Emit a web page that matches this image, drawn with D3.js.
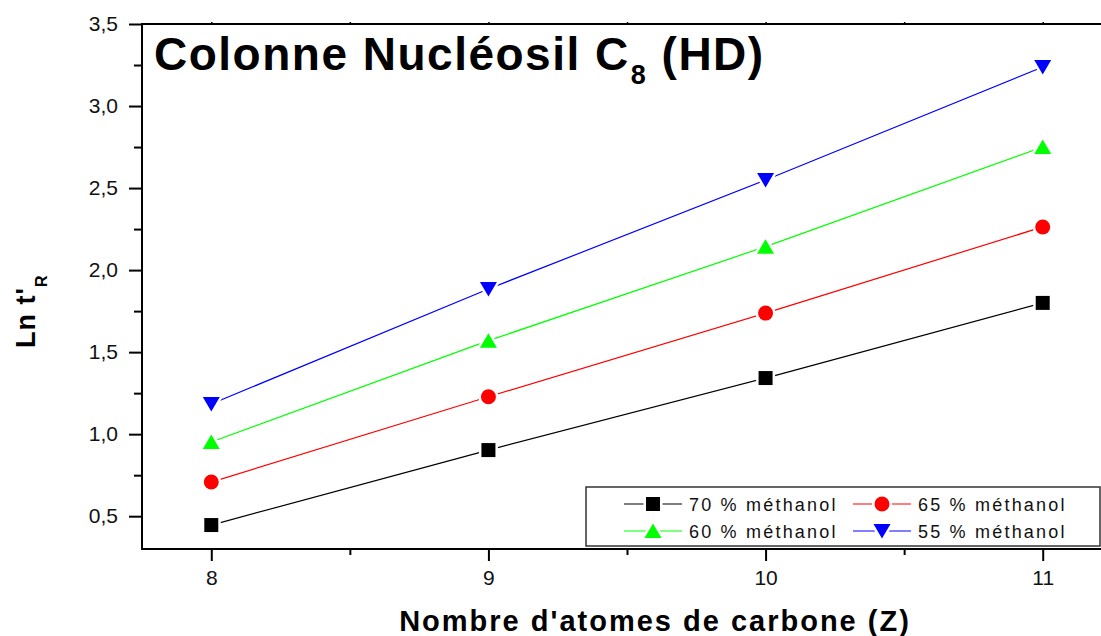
<!DOCTYPE html>
<html>
<head>
<meta charset="utf-8">
<script src="https://cdn.jsdelivr.net/npm/d3@7"></script>
<style>
  body { margin: 0; background: #fff; }
  svg { display: block; font-family: Arial, 'Liberation Sans', sans-serif; }
</style>
</head>
<body>
<div id="chart"></div>
<script>
// Ln t'R vs carbon number, four methanol ratios

const carbons = [8, 9, 10, 11]
const meth70 = [0.446, 0.903, 1.342, 1.80]
const meth65 = [0.708, 1.228, 1.738, 2.263]
const meth60 = [0.952, 1.57, 2.143, 2.75]
const meth55 = [1.184, 1.885, 2.549, 3.238]
const seriesNames = ['70 % méthanol', '65 % méthanol', '60 % méthanol', '55 % méthanol']
const yTicks = [0.5, 1.0, 1.5, 2.0, 2.5, 3.0, 3.5]
const xTicks = [8, 9, 10, 11]

const width = 1101
const height = 636

const series = [
  { name: seriesNames[0], values: meth70, color: '#000000', shape: 'square' },
  { name: seriesNames[1], values: meth65, color: '#ff0000', shape: 'circle' },
  { name: seriesNames[2], values: meth60, color: '#00ff00', shape: 'up' },
  { name: seriesNames[3], values: meth55, color: '#0000ff', shape: 'down' }
]

const svg = d3.select('#chart').append('svg')
  .attr('width', width).attr('height', height)

const x = d3.scaleLinear().domain([7.75, 11.25]).range([142, 1112])
const y = d3.scaleLinear().domain([0.3, 3.5]).range([549, 24])

const fr = d3.formatLocale({ decimal: ',', thousands: ' ', grouping: [3], currency: ['', ''] })
const fmt = fr.format('.1f')

// marker path centred on its bounding box
function markerPath (shape) {
  if (shape === 'square') return 'M-7,-7H7V7H-7Z'
  if (shape === 'circle') return 'M-7.5,0A7.5,7.5 0 1,0 7.5,0A7.5,7.5 0 1,0 -7.5,0Z'
  if (shape === 'up') return 'M0,-7.5L8.5,7L-8.5,7Z'
  return 'M0,7.5L8.5,-7L-8.5,-7Z'
}

// axes
const yAxis = svg.append('g').attr('transform', 'translate(' + x.range()[0] + ',0)')
  .call(d3.axisLeft(y).tickValues(yTicks).tickFormat(fmt).tickSize(13).tickPadding(11))
yAxis.select('.domain').remove()
yAxis.selectAll('line').attr('stroke-width', 2)
yAxis.selectAll('text').attr('font-size', 21).attr('fill', '#111')

svg.append('g').attr('transform', 'translate(' + x.range()[0] + ',0)')
  .call(d3.axisLeft(y).tickValues([0.75, 1.25, 1.75, 2.25, 2.75, 3.25]).tickFormat('').tickSize(8))
  .call(g => g.select('.domain').remove())
  .selectAll('line').attr('stroke-width', 2)

const xAxis = svg.append('g').attr('transform', 'translate(0,' + y.range()[0] + ')')
  .call(d3.axisBottom(x).tickValues(xTicks).tickFormat(d3.format('d')).tickSize(12).tickPadding(9))
xAxis.select('.domain').remove()
xAxis.selectAll('line').attr('stroke-width', 2)
xAxis.selectAll('text').attr('font-size', 21).attr('fill', '#111')

svg.append('g').attr('transform', 'translate(0,' + y.range()[0] + ')')
  .call(d3.axisBottom(x).tickValues([8.5, 9.5, 10.5]).tickFormat('').tickSize(6))
  .call(g => g.select('.domain').remove())
  .selectAll('line').attr('stroke-width', 2)

// top small ticks
svg.append('g').attr('transform', 'translate(0,' + y.range()[1] + ')')
  .call(d3.axisTop(x).tickValues([8, 8.5, 9, 9.5, 10, 10.5, 11]).tickFormat('').tickSize(2))
  .call(g => g.select('.domain').remove())
  .selectAll('line').attr('stroke-width', 1.5)

// frame
svg.append('rect')
  .attr('x', x.range()[0]).attr('y', y.range()[1])
  .attr('width', x.range()[1] - x.range()[0])
  .attr('height', y.range()[0] - y.range()[1])
  .attr('fill', 'none').attr('stroke', '#000').attr('stroke-width', 2)

// lines and markers
const line = d3.line().x((d, i) => x(carbons[i])).y(d => y(d))
const sg = svg.append('g')
series.forEach(s => {
  sg.append('path').datum(s.values)
    .attr('d', line)
    .attr('fill', 'none').attr('stroke', s.color).attr('stroke-width', 1.2)
})
series.forEach(s => {
  sg.selectAll(null).data(s.values).join('path')
    .attr('d', markerPath(s.shape))
    .attr('transform', (d, i) => 'translate(' + x(carbons[i]) + ',' + y(d) + ')')
    .attr('fill', s.color)
    .attr('stroke', '#fff').attr('stroke-width', 5)
    .attr('paint-order', 'stroke')
})

// legend
const lg = svg.append('g')
lg.append('rect').attr('x', 586).attr('y', 487).attr('width', 514).attr('height', 59)
  .attr('fill', '#fff').attr('stroke', '#333').attr('stroke-width', 1.5)
const legPos = [[624, 504], [853, 504], [624, 531], [853, 531]]
series.forEach((s, i) => {
  const [lx, ly] = legPos[i]
  const g = lg.append('g').attr('transform', 'translate(' + lx + ',' + ly + ')')
  g.append('line').attr('x1', 0).attr('x2', 58).attr('y1', 0).attr('y2', 0)
    .attr('stroke', s.color).attr('stroke-width', 1.2)
  g.append('path').attr('d', markerPath(s.shape))
    .attr('transform', 'translate(29,0)')
    .attr('fill', s.color).attr('stroke', '#fff').attr('stroke-width', 5)
    .attr('paint-order', 'stroke')
  g.append('text').attr('x', 65).attr('y', 6.5)
    .attr('font-size', 18).attr('letter-spacing', 2.2).attr('fill', '#111')
    .text(s.name)
})

// title
const title = svg.append('text').attr('x', 154).attr('y', 70)
  .attr('font-size', 46).attr('font-weight', 'bold').attr('letter-spacing', 1.5)
title.append('tspan').text('Colonne Nucléosil C')
title.append('tspan').attr('font-size', 27).attr('dy', 14).attr('dx', 1).text('8')
title.append('tspan').attr('dy', -14).text(' (HD)')

// axis titles
svg.append('text').attr('x', 655).attr('y', 631)
  .attr('text-anchor', 'middle').attr('font-size', 29).attr('font-weight', 'bold')
  .attr('letter-spacing', 2)
  .text("Nombre d'atomes de carbone (Z)")

const yl = svg.append('text')
  .attr('transform', 'translate(35,348) rotate(-90)')
  .attr('font-size', 27).attr('font-weight', 'bold').attr('letter-spacing', 1)
yl.append('tspan').text("Ln t'")
yl.append('tspan').attr('font-size', 16).attr('dy', 12).text('R')
</script>
</body>
</html>
